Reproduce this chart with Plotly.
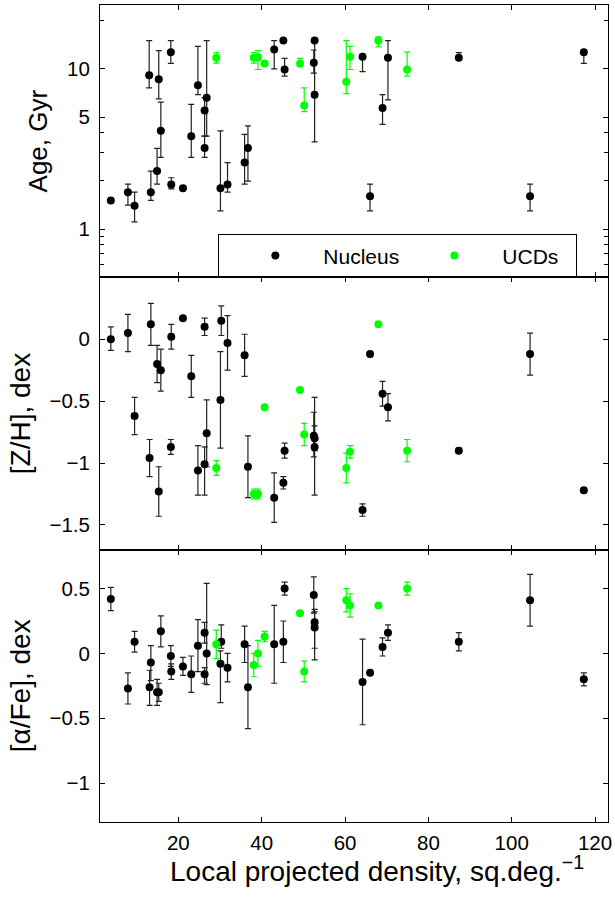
import plotly.graph_objects as go
from plotly.subplots import make_subplots

# ---- Age panel (log scale) ----
age_nuc_x = [3.8, 7.9, 9.5, 13.0, 13.4, 14.9, 15.3, 15.8, 18.2, 18.3, 21.1, 23.1, 24.7,
             26.3, 26.8, 26.3, 30.1, 31.8, 35.9, 36.7, 43.0, 45.2, 45.5, 52.7, 52.5,
             52.7, 64.2, 66.0, 69.0, 70.3, 87.3, 104.4, 117.3]
age_nuc = [1.51, 1.70, 1.40, 9.1, 1.70, 2.30, 8.6, 4.1, 12.7, 1.90, 1.80, 3.8, 7.9,
           5.5, 6.6, 3.2, 1.80, 1.90, 2.60, 3.2, 13.2, 15.0, 9.9, 15.0, 10.9,
           6.9, 11.9, 1.60, 5.7, 11.7, 11.7, 1.60, 12.7]
age_nuc_up = [0, 0.21, 0.30, 5.9, 0.60, 0.89, 4.4, 2.1, 2.3, 0.19, 0, 2.2, 5.9,
              1.1, 8.4, 0.6, 2.3, 0.7, 1.3, 1.2, 1.8, 0, 1.7, 0, 2.2,
              8.1, 0, 0.31, 1.2, 3.3, 0.9, 0.31, 0.1]
age_nuc_dn = [0, 0.29, 0.29, 1.5, 0.19, 0.39, 2.1, 1.3, 1.9, 0.12, 0, 1.0, 1.0,
              1.7, 2.8, 0.4, 0.5, 0.2, 0.69, 1.21, 3.2, 0, 0.9, 0, 1.5,
              3.4, 2.3, 0.30, 1.2, 5.3, 0, 0.30, 1.9]

age_ucd_x = [29.1, 38.1, 39.1, 40.7, 49.2, 50.2, 60.3, 61.2, 68.0, 74.9]
age_ucd = [11.7, 11.7, 11.8, 10.8, 10.8, 5.9, 8.3, 11.9, 15.0, 9.9]
age_ucd_up = [0.9, 0.9, 1.2, 0, 0.8, 1.7, 6.7, 1.9, 0.8, 2.8]
age_ucd_dn = [0.85, 0.85, 1.9, 0, 0.5, 0.5, 1.3, 2.0, 1.3, 0.9]

# ---- [Z/H] panel ----
zh_nuc_x = [3.8, 7.9, 9.5, 13.4, 13.1, 14.9, 15.8, 15.3, 18.3, 18.2, 21.1, 23.1, 24.7,
            26.3, 26.3, 26.8, 30.3, 30.1, 31.8, 35.9, 36.7, 43.0, 45.5, 45.2,
            52.5, 52.7, 52.7, 66.0, 69.0, 70.3, 64.2, 87.3, 104.4, 117.3]
zh_nuc = [0.00, 0.05, -0.62, 0.12, -0.96, -0.20, -0.25, -1.23, 0.02, -0.87, 0.17, -0.30, -1.06,
          0.10, -1.01, -0.76, 0.15, -0.49, -0.03, -0.13, -1.03, -1.28, -0.90, -1.16,
          -0.78, -0.80, -0.87, -0.12, -0.44, -0.55, -1.38, -0.90, -0.12, -1.22]
zh_nuc_up = [0.10, 0.15, 0.15, 0.17, 0.15, 0.15, 0.17, 0.20, 0.10, 0.06, 0, 0.17, 0.20,
             0.07, 0.14, 0.27, 0.12, 0.39, 0.22, 0.17, 0.25, 0.20, 0.06, 0.05,
             0.19, 0.10, 0.40, 0.02, 0.10, 0.11, 0.05, 0.02, 0.17, 0.02]
zh_nuc_dn = [0.09, 0.15, 0.15, 0.17, 0.15, 0.15, 0.17, 0.20, 0.10, 0.06, 0, 0.17, 0.20,
             0.07, 0.25, 0.27, 0.12, 0.39, 0.22, 0.17, 0.25, 0.20, 0.06, 0.05,
             0.17, 0.10, 0.39, 0.02, 0.10, 0.11, 0.05, 0.02, 0.17, 0.02]

zh_ucd_x = [29.1, 38.1, 39.1, 40.7, 49.2, 50.2, 60.3, 61.2, 68.0, 74.9]
zh_ucd = [-1.04, -1.25, -1.25, -0.55, -0.41, -0.77, -1.04, -0.91, 0.12, -0.90]
zh_ucd_err = [0.06, 0.04, 0.04, 0, 0, 0.09, 0.12, 0.05, 0, 0.09]

# ---- [alpha/Fe] panel ----
af_nuc_x = [3.8, 7.9, 9.5, 13.1, 13.4, 14.9, 15.3, 15.8, 18.2, 18.3, 21.1, 23.1, 24.7,
            26.3, 26.3, 26.8, 30.3, 30.1, 31.8, 35.9, 36.7, 43.0, 45.2, 45.5,
            52.5, 52.7, 52.7, 64.2, 66.0, 69.0, 70.3, 87.3, 104.4, 117.3]
af_nuc = [0.42, -0.27, 0.09, -0.26, -0.07, -0.30, -0.30, 0.17, -0.02, -0.14, -0.10, -0.16, 0.06,
          0.16, -0.16, 0.00, 0.09, -0.08, -0.11, 0.07, -0.26, 0.07, 0.09, 0.50,
          0.45, 0.24, 0.20, -0.22, -0.15, 0.05, 0.16, 0.09, 0.41, -0.20]
af_nuc_up = [0.09, 0.12, 0.08, 0.13, 0.13, 0.10, 0.07, 0.12, 0.08, 0.06, 0.07, 0.14, 0.20,
             0.08, 0.05, 0.54, 0.13, 0.10, 0.11, 0.14, 0.32, 0.30, 0.16, 0.05,
             0.14, 0.10, 0.12, 0.33, 0.02, 0.07, 0.06, 0.07, 0.20, 0.05]
af_nuc_dn = [0.09, 0.12, 0.08, 0.14, 0.14, 0.10, 0.07, 0.12, 0.08, 0.06, 0.07, 0.14, 0.20,
             0.08, 0.07, 0.24, 0.05, 0.30, 0.11, 0.14, 0.32, 0.30, 0.16, 0.05,
             0.14, 0.20, 0.25, 0.33, 0.02, 0.07, 0.06, 0.07, 0.20, 0.05]

af_ucd_x = [29.1, 38.1, 39.1, 40.7, 49.2, 50.2, 60.3, 61.2, 68.0, 74.9]
af_ucd = [0.07, -0.09, 0.00, 0.13, 0.31, -0.14, 0.41, 0.37, 0.37, 0.50]
af_ucd_err = [0.11, 0.09, 0.10, 0.04, 0, 0.08, 0.09, 0.09, 0, 0.05]

NUC = "black"
UCD = "#00ff00"
FONT = "Liberation Sans, Arial, sans-serif"

fig = make_subplots(rows=3, cols=1, shared_xaxes=True, vertical_spacing=0)


def add(row, x, y, up, dn, color, name, show):
    fig.add_trace(go.Scatter(
        x=x, y=y, mode="markers", name=name, showlegend=show, legendgroup=name,
        marker=dict(color=color, size=8),
        error_y=dict(type="data", symmetric=False, array=up, arrayminus=dn,
                     color=color if color != NUC else "#222222",
                     thickness=1.2, width=3),
    ), row=row, col=1)


add(1, age_nuc_x, age_nuc, age_nuc_up, age_nuc_dn, NUC, "Nucleus", True)
add(1, age_ucd_x, age_ucd, age_ucd_up, age_ucd_dn, UCD, "UCDs", True)
add(2, zh_nuc_x, zh_nuc, zh_nuc_up, zh_nuc_dn, NUC, "Nucleus", False)
add(2, zh_ucd_x, zh_ucd, zh_ucd_err, zh_ucd_err, UCD, "UCDs", False)
add(3, af_nuc_x, af_nuc, af_nuc_up, af_nuc_dn, NUC, "Nucleus", False)
add(3, af_ucd_x, af_ucd, af_ucd_err, af_ucd_err, UCD, "UCDs", False)

axis_style = dict(showline=True, linecolor="black", linewidth=1, mirror="ticks",
                  ticks="inside", ticklen=5, tickcolor="black", tickwidth=1,
                  showgrid=False, zeroline=False, automargin=False,
                  tickfont=dict(family=FONT, size=20.5, color="black"))
title_font = dict(family=FONT, size=28, color="black")

fig.update_xaxes(**axis_style, range=[1.2, 123.1], tickvals=[20, 40, 60, 80, 100, 120],
                 ticklabelstandoff=2)

fig.update_yaxes(**axis_style, ticklabelstandoff=5)
fig.update_yaxes(type="log", range=[-0.301, 1.398], tickvals=[1, 5, 10],
                 minor=dict(tickvals=[0.6, 0.7, 0.8, 0.9, 2, 3, 4, 20], ticks="inside",
                            ticklen=4, tickcolor="black"),
                 title=dict(text="Age, Gyr", font=dict(family=FONT, size=26, color="black"),
                            standoff=11), row=1, col=1)
fig.update_yaxes(range=[-1.7, 0.5], tickvals=[-1.5, -1, -0.5, 0],
                 title=dict(text="[Z/H], dex", font=title_font, standoff=10), row=2, col=1)
fig.update_yaxes(range=[-1.3, 0.8], tickvals=[-1, -0.5, 0, 0.5],
                 title=dict(text="[\u03b1/Fe], dex", font=title_font, standoff=10), row=3, col=1)

# x title as an annotation: the original sits a bit right of the axis centre
fig.add_annotation(text="Local projected density, sq.deg.<sup>\u22121</sup>",
                   xref="paper", yref="paper", x=0.545, y=-0.058,
                   xanchor="center", yanchor="middle", showarrow=False,
                   font=title_font)

fig.update_layout(
    width=615, height=898,
    margin=dict(l=100, r=7, t=5, b=76),
    plot_bgcolor="white", paper_bgcolor="white",
    font=dict(family=FONT, color="black"),
    legend=dict(orientation="h", x=0.233, xanchor="left", y=2 / 3, yanchor="bottom",
                bgcolor="white", bordercolor="black", borderwidth=1,
                font=dict(family=FONT, size=21, color="black"),
                itemwidth=86, entrywidth=69, entrywidthmode="pixels", indentation=9),
)

# page body margin would shift the figure by 8px
fig.write_html("out.html", config={"displayModeBar": False},
               post_script="document.body.style.margin='0';")
